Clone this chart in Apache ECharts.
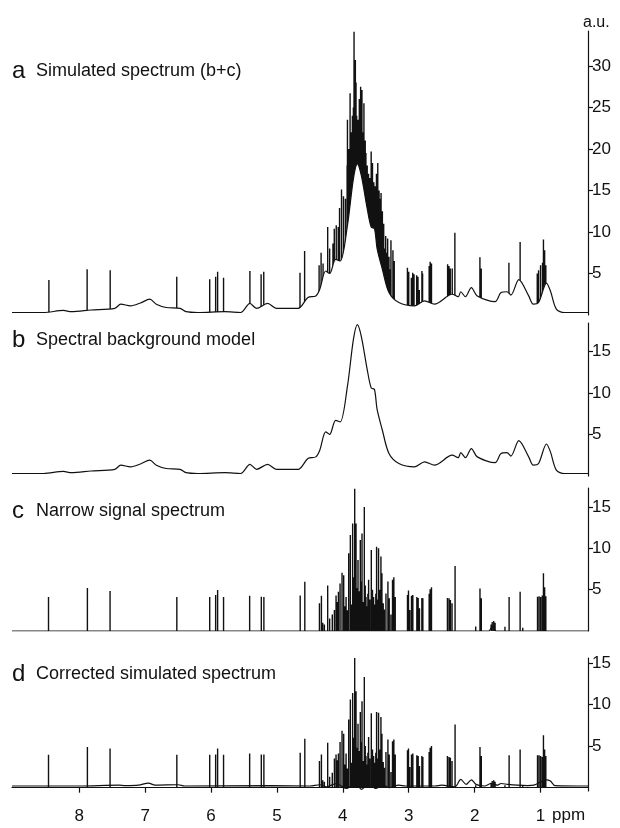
<!DOCTYPE html>
<html>
<head>
<meta charset="utf-8">
<script src="https://cdn.jsdelivr.net/npm/echarts@6/dist/echarts.min.js"></script>
<style>
  html, body { margin: 0; padding: 0; background: #fff; }
  #chart { width: 620px; height: 828px; }
</style>
</head>
<body>
<div id="chart"></div>
<script>
// ---- data (ppm, a.u.) ----
const bgPpm = [9.02, 8.54, 8.24, 8.12, 7.82, 7.46, 7.37, 7.22, 7.07, 6.93, 6.83, 6.68, 6.47, 6.38, 6.20, 5.79, 5.55, 5.41, 5.31, 5.14, 5.01, 4.68, 4.53, 4.41, 4.35, 4.26, 4.20, 4.11, 4.04, 3.93, 3.84, 3.78, 3.72, 3.63, 3.57, 3.52, 3.48, 3.40, 3.30, 3.15, 2.91, 2.76, 2.61, 2.34, 2.25, 2.21, 2.14, 2.05, 1.96, 1.69, 1.60, 1.51, 1.45, 1.33, 1.18, 1.11, 1.03, 0.91, 0.85, 0.76, 0.64, 0.28];
const bgVal = [0.3, 0.3, 0.55, 0.4, 0.6, 0.8, 1.3, 1.1, 1.45, 1.9, 1.3, 0.9, 0.8, 0.4, 0.3, 0.4, 0.3, 1.4, 0.8, 1.4, 0.8, 0.8, 2.1, 2.3, 3.1, 5.3, 5.0, 6.7, 6.5, 10.8, 16.4, 18.2, 16.8, 12.8, 10.6, 10.4, 8.0, 5.5, 2.7, 1.5, 1.1, 1.7, 1.3, 2.5, 2.2, 2.8, 2.2, 3.3, 2.3, 1.6, 2.7, 2.8, 2.4, 4.25, 2.3, 1.3, 1.5, 3.85, 2.9, 0.7, 0.3, 0.3];

// panel a: peak tops of the simulated spectrum
const aPeakPpm = [8.46, 7.88, 7.53, 6.52, 6.02, 5.93, 5.90, 5.81, 5.41, 5.24, 5.20, 4.65, 4.58, 4.36, 4.33, 4.30, 4.23, 4.20, 4.15, 4.13, 4.10, 4.07, 4.05, 4.02, 3.99, 3.96, 3.935, 3.93, 3.91, 3.905, 3.89, 3.875, 3.86, 3.855, 3.845, 3.84, 3.83, 3.825, 3.815, 3.81, 3.80, 3.79, 3.785, 3.77, 3.76, 3.75, 3.74, 3.73, 3.72, 3.71, 3.70, 3.69, 3.68, 3.67, 3.66, 3.65, 3.64, 3.63, 3.62, 3.61, 3.60, 3.59, 3.58, 3.57, 3.56, 3.55, 3.54, 3.53, 3.52, 3.51, 3.50, 3.49, 3.48, 3.47, 3.46, 3.45, 3.44, 3.43, 3.42, 3.41, 3.40, 3.39, 3.38, 3.37, 3.35, 3.34, 3.32, 3.31, 3.30, 3.28, 3.27, 3.24, 3.22, 3.02, 3.00, 2.96, 2.94, 2.92, 2.88, 2.86, 2.84, 2.80, 2.79, 2.69, 2.675, 2.655, 2.41, 2.39, 2.37, 2.34, 2.30, 1.92, 1.90, 1.48, 1.31, 1.05, 1.03, 1.00, 0.97, 0.956, 0.938, 0.92];
const aPeakTop = [4.2, 5.5, 5.4, 4.6, 4.3, 4.6, 5.2, 4.5, 5.3, 4.9, 5.2, 5.1, 7.7, 6.0, 7.5, 6.2, 10.6, 8.0, 8.6, 10.4, 10.8, 10.6, 12.9, 15.1, 14.3, 14.0, 18.0, 23.5, 20.0, 19.0, 26.7, 22.0, 20.7, 24.0, 19.5, 25.0, 34.1, 27.0, 22.0, 30.7, 28.0, 24.0, 21.0, 23.5, 20.0, 26.0, 24.0, 27.5, 22.0, 27.1, 21.0, 22.0, 25.5, 20.0, 21.0, 19.5, 17.5, 18.0, 16.0, 17.0, 15.5, 16.5, 14.5, 19.7, 15.0, 18.3, 14.0, 16.0, 13.5, 15.5, 13.0, 17.0, 12.5, 18.3, 12.0, 15.0, 11.0, 14.0, 14.7, 10.0, 12.5, 9.0, 11.0, 8.0, 9.5, 7.5, 9.2, 6.0, 7.0, 5.5, 9.0, 7.8, 6.5, 5.7, 5.2, 4.5, 5.1, 4.9, 4.8, 4.6, 3.0, 5.3, 5.0, 5.9, 6.4, 6.2, 6.1, 5.9, 5.6, 5.6, 9.9, 6.95, 5.6, 6.3, 8.8, 5.0, 5.4, 6.0, 6.3, 9.1, 7.8, 6.0];

// panels c and d: narrow signals (same positions)
const cPeakPpm = [8.466, 7.876, 7.532, 6.519, 6.02, 5.93, 5.90, 5.81, 5.414, 5.237, 5.198, 4.647, 4.577, 4.355, 4.325, 4.305, 4.28, 4.23, 4.20, 4.16, 4.128, 4.103, 4.085, 4.067, 4.042, 4.012, 3.987, 3.97, 3.951, 3.93, 3.911, 3.886, 3.87, 3.851, 3.835, 3.82, 3.80, 3.785, 3.77, 3.755, 3.735, 3.72, 3.709, 3.69, 3.674, 3.66, 3.649, 3.63, 3.62, 3.609, 3.59, 3.568, 3.55, 3.533, 3.52, 3.50, 3.488, 3.47, 3.458, 3.44, 3.422, 3.407, 3.387, 3.37, 3.346, 3.316, 3.296, 3.27, 3.246, 3.226, 3.205, 3.019, 3.004, 2.983, 2.958, 2.938, 2.877, 2.857, 2.837, 2.801, 2.786, 2.69, 2.675, 2.655, 2.413, 2.388, 2.368, 2.343, 2.297, 1.984, 1.919, 1.899, 1.75, 1.733, 1.71, 1.69, 1.54, 1.477, 1.31, 1.27, 1.046, 1.022, 0.998, 0.974, 0.956, 0.938, 0.92];
const cPeakTop = [4.1, 5.2, 4.85, 4.1, 4.1, 4.35, 4.95, 4.1, 4.25, 4.15, 4.1, 4.3, 5.95, 3.35, 4.25, 1.0, 0.8, 5.5, 1.5, 2.0, 2.55, 4.3, 3.5, 4.75, 5.75, 7.05, 6.75, 3.0, 4.1, 2.5, 9.4, 11.6, 3.2, 13.0, 6.5, 17.2, 13.0, 5.2, 8.6, 4.8, 11.0, 6.0, 11.8, 3.5, 15.0, 5.5, 4.1, 3.0, 4.5, 6.2, 3.8, 9.8, 5.0, 4.1, 3.2, 4.5, 10.2, 3.8, 10.0, 5.0, 9.0, 7.0, 3.35, 2.6, 4.55, 6.0, 3.95, 2.0, 6.2, 6.5, 4.1, 4.35, 4.9, 2.55, 4.25, 4.35, 4.1, 4.0, 2.75, 4.0, 3.95, 4.5, 5.05, 5.3, 4.0, 3.95, 3.75, 3.35, 7.85, 0.55, 5.15, 3.95, 0.8, 1.1, 1.2, 1.0, 0.5, 4.1, 4.75, 0.4, 4.15, 4.2, 4.1, 4.3, 7.0, 5.3, 4.2];
const dPeakTop = [3.95, 4.9, 4.7, 3.95, 3.95, 4.0, 4.7, 3.95, 4.1, 4.0, 4.0, 4.2, 5.9, 3.2, 4.0, 0.9, 0.7, 5.4, 1.3, 1.8, 3.5, 4.0, 3.3, 4.1, 5.5, 6.85, 6.5, 2.8, 4.1, 2.3, 8.2, 10.6, 3.0, 11.4, 6.0, 15.6, 11.6, 4.8, 7.7, 4.4, 9.1, 5.5, 10.4, 3.2, 13.3, 5.0, 3.8, 2.8, 4.2, 6.1, 3.5, 8.95, 4.6, 3.8, 3.0, 4.2, 9.1, 3.5, 9.0, 4.6, 8.5, 6.5, 3.1, 2.4, 4.3, 5.8, 4.0, 1.9, 5.6, 5.8, 4.0, 4.5, 4.7, 2.5, 4.0, 4.1, 3.9, 3.8, 2.6, 3.8, 3.7, 4.3, 4.8, 5.0, 3.8, 3.7, 3.6, 3.2, 7.6, 0.3, 4.9, 3.8, 0.6, 0.8, 0.9, 0.7, 0.3, 3.9, 4.6, 0.3, 3.9, 3.9, 3.8, 3.7, 6.3, 4.6, 3.8];

// baselines of c and d
const cBasePpm = [9.02, 2.00, 1.98, 1.95, 1.78, 1.73, 1.68, 1.55, 1.53, 1.50, 1.28, 1.26, 1.24, 0.28];
const cBaseVal = [0, 0, 0.2, 0, 0, 0.6, 0, 0, 0.2, 0, 0, 0.2, 0, 0];
const dBasePpm = [9.02, 8.0, 7.4, 7.3, 7.1, 6.95, 6.85, 6.5, 6.4, 5.1, 4.5, 4.35, 4.25, 4.1, 3.95, 3.8, 3.72, 3.6, 3.5, 3.4, 3.3, 3.15, 3.05, 2.6, 2.5, 2.3, 2.21, 2.13, 2.05, 1.98, 1.85, 1.75, 1.65, 1.6, 1.5, 1.35, 1.2, 1.1, 0.91, 0.85, 0.78, 0.28];
const dBaseVal = [0.2, 0.2, 0.3, 0.25, 0.3, 0.55, 0.3, 0.35, 0.2, 0.25, 0.2, 0.35, 0.1, 0.5, -0.1, 0.6, -0.2, 0.5, -0.1, 0.4, 0, 0.3, 0.2, 0.2, 0.3, 0.1, 1.0, 0.4, 0.95, 0.4, 0.2, 0.5, 0.3, 0.5, 0.4, 0.3, 0.25, 0.3, 0.95, 0.8, 0.25, 0.2];

// axis ticks
const xTicks = [1, 2, 3, 4, 5, 6, 7, 8];
const aTicks = [5, 10, 15, 20, 25, 30];
const bcdTicks = [5, 10, 15];

const FONT = "'Liberation Sans', Arial, sans-serif";
const INK = "#111";

function curve(ppm, val) {
  return ppm.map((p, i) => [p, val[i]]);
}
function sticks(ppm, top) {
  const out = [];
  ppm.forEach((p, i) => {
    out.push([p, 0], [p, top[i]], "-");
  });
  return out;
}

const grids = [
  { left: 12, right: 32, top: 31, height: 284 },
  { left: 12, right: 32, top: 323, height: 153 },
  { left: 12, right: 32, top: 488, height: 143 },
  { left: 12, right: 32, top: 658, height: 133 }
];
const yMax = [34.2, 18.4, 17.3, 15.6];
const yMin = [0, 0, 0, -0.4];

const xAxes = grids.map((g, i) => ({
  type: "value",
  gridIndex: i,
  min: 0.28,
  max: 9.02,
  inverse: true,
  show: i === 3,
  position: "bottom",
  offset: 10,
  splitLine: { show: false },
  axisLine: { lineStyle: { color: INK, width: 1.2 } },
  axisTick: { length: 5, customValues: xTicks, lineStyle: { color: INK, width: 1.2 } },
  axisLabel: {
    customValues: xTicks,
    margin: 7,
    color: INK,
    fontFamily: FONT,
    fontSize: 17
  }
}));

const yAxes = grids.map((g, i) => ({
  type: "value",
  gridIndex: i,
  position: "right",
  min: yMin[i],
  max: yMax[i],
  splitLine: { show: false },
  axisLine: { show: true, lineStyle: { color: INK, width: 1.2 } },
  axisTick: {
    show: true,
    length: 5,
    customValues: i === 0 ? aTicks : bcdTicks,
    lineStyle: { color: INK, width: 1.2 }
  },
  axisLabel: {
    customValues: i === 0 ? aTicks : bcdTicks,
    margin: 4,
    color: INK,
    fontFamily: FONT,
    fontSize: 17
  }
}));

const lineBase = {
  type: "line",
  showSymbol: false,
  symbol: "none",
  animation: false,
  connectNulls: false,
  lineStyle: { color: INK, width: 1.2 }
};
const stickStyle = { color: INK, width: 1.4 };

const series = [
  // a: sticks below, background with white fill on top hides their feet
  Object.assign({}, lineBase, { xAxisIndex: 0, yAxisIndex: 0, z: 2, lineStyle: stickStyle, data: sticks(aPeakPpm, aPeakTop) }),
  Object.assign({}, lineBase, {
    xAxisIndex: 0, yAxisIndex: 0, z: 3, smooth: 0.3,
    areaStyle: { color: "#fff", opacity: 1 },
    data: curve(bgPpm, bgVal)
  }),
  // b
  Object.assign({}, lineBase, { xAxisIndex: 1, yAxisIndex: 1, smooth: 0.3, data: curve(bgPpm, bgVal) }),
  // c
  Object.assign({}, lineBase, { xAxisIndex: 2, yAxisIndex: 2, data: curve(cBasePpm, cBaseVal) }),
  Object.assign({}, lineBase, { xAxisIndex: 2, yAxisIndex: 2, lineStyle: stickStyle, data: sticks(cPeakPpm, cPeakTop) }),
  // d
  Object.assign({}, lineBase, { xAxisIndex: 3, yAxisIndex: 3, smooth: 0.3, data: curve(dBasePpm, dBaseVal) }),
  Object.assign({}, lineBase, { xAxisIndex: 3, yAxisIndex: 3, lineStyle: stickStyle, data: sticks(cPeakPpm, dPeakTop) })
];

function panelTitle(letter, text, y) {
  return [
    { type: "text", x: 12, y: y, style: { text: letter, font: "24px " + FONT, fill: INK, verticalAlign: "middle" } },
    { type: "text", x: 36, y: y, style: { text: text, font: "18px " + FONT, fill: INK, verticalAlign: "middle" } }
  ];
}

const graphics = [].concat(
  panelTitle("a", "Simulated spectrum (b+c)", 71),
  panelTitle("b", "Spectral background model", 340),
  panelTitle("c", "Narrow signal spectrum", 511),
  panelTitle("d", "Corrected simulated spectrum", 674),
  [
    { type: "text", x: 583, y: 23, style: { text: "a.u.", font: "16px " + FONT, fill: INK, verticalAlign: "middle" } },
    { type: "text", x: 552, y: 815, style: { text: "ppm", font: "17px " + FONT, fill: INK, verticalAlign: "middle" } }
  ]
);

const chart = echarts.init(document.getElementById("chart"), null, { renderer: "canvas" });
chart.setOption({
  backgroundColor: "#fff",
  animation: false,
  grid: grids,
  xAxis: xAxes,
  yAxis: yAxes,
  series: series,
  graphic: graphics
});
</script>
</body>
</html>
